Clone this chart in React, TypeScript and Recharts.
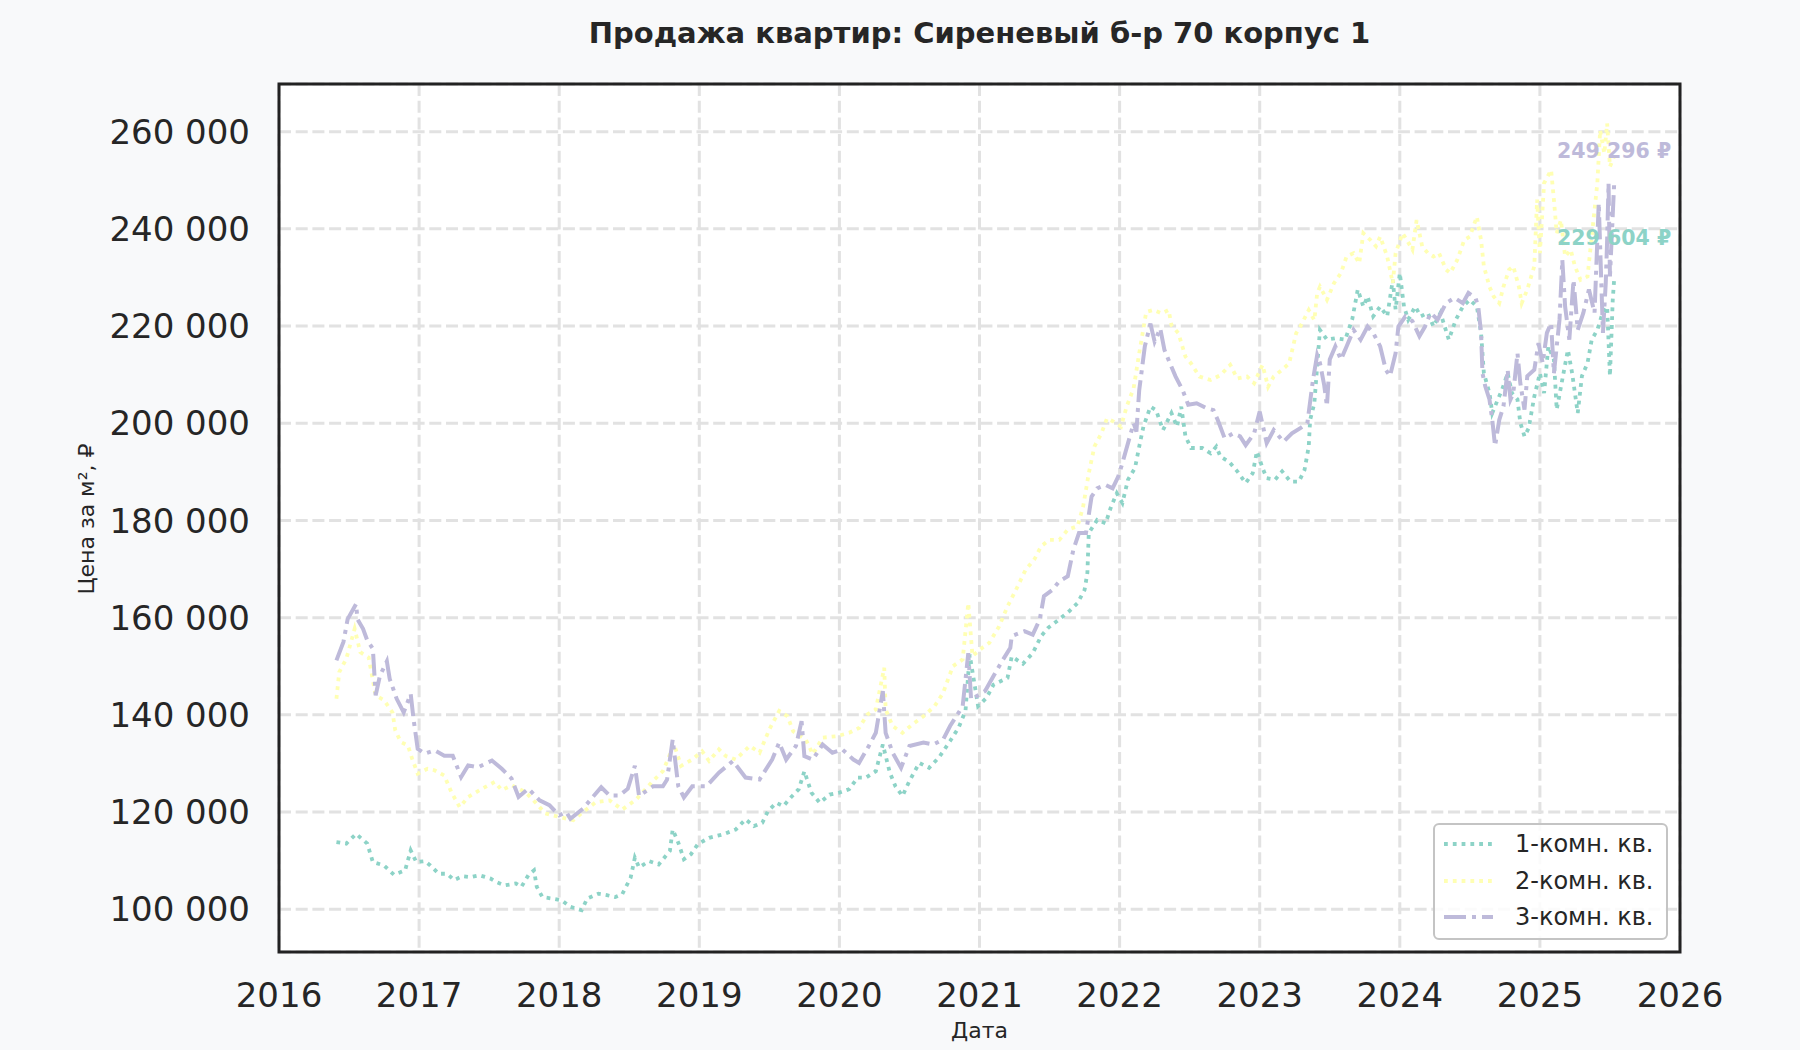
import React from "react";
import { LineChart, Line, XAxis, YAxis, CartesianGrid, ReferenceArea, ReferenceDot } from "recharts";

// ---------- data ----------
const TITLE = "Продажа квартир: Сиреневый б-р 70 корпус 1";
const X_LABEL = "Дата";
const Y_LABEL = "Цена за м², ₽";
const YEAR_TICKS = [2016, 2017, 2018, 2019, 2020, 2021, 2022, 2023, 2024, 2025, 2026];
const PRICE_TICKS = [100000, 120000, 140000, 160000, 180000, 200000, 220000, 240000, 260000];
const SERIES_NAMES = ["1-комн. кв.", "2-комн. кв.", "3-комн. кв."];

const DATES_1 = [
  2016.41, 2016.48, 2016.55, 2016.63, 2016.67, 2016.75, 2016.82, 2016.90, 2016.94, 2016.98,
  2017.04, 2017.08, 2017.14, 2017.20, 2017.25, 2017.31, 2017.37, 2017.43, 2017.51, 2017.55,
  2017.61, 2017.69, 2017.73, 2017.78, 2017.82, 2017.84, 2017.88, 2017.95, 2018.02, 2018.08,
  2018.16, 2018.20, 2018.28, 2018.34, 2018.40, 2018.45, 2018.51, 2018.54, 2018.57, 2018.64,
  2018.71, 2018.79, 2018.81, 2018.85, 2018.89, 2018.94, 2018.99, 2019.07, 2019.17, 2019.26,
  2019.33, 2019.39, 2019.45, 2019.49, 2019.55, 2019.60, 2019.65, 2019.71, 2019.75, 2019.80,
  2019.86, 2019.93, 2020.00, 2020.07, 2020.13, 2020.19, 2020.26, 2020.31, 2020.36, 2020.40,
  2020.45, 2020.50, 2020.57, 2020.64, 2020.71, 2020.79, 2020.85, 2020.90, 2020.93, 2020.99,
  2021.05, 2021.10, 2021.20, 2021.23, 2021.31, 2021.38, 2021.44, 2021.49, 2021.58, 2021.64,
  2021.70, 2021.75, 2021.77, 2021.78, 2021.84, 2021.90, 2021.94, 2021.98, 2022.02, 2022.06,
  2022.11, 2022.14, 2022.17, 2022.22, 2022.26, 2022.31, 2022.37, 2022.41, 2022.44, 2022.47,
  2022.51, 2022.59, 2022.65, 2022.69, 2022.72, 2022.78, 2022.84, 2022.90, 2022.95, 2022.98,
  2023.02, 2023.05, 2023.11, 2023.16, 2023.22, 2023.28, 2023.32, 2023.35, 2023.36, 2023.39,
  2023.43, 2023.48, 2023.54, 2023.61, 2023.66, 2023.70, 2023.74, 2023.77, 2023.81, 2023.86,
  2023.91, 2023.95, 2023.97, 2024.00, 2024.03, 2024.06, 2024.11, 2024.15, 2024.20, 2024.24,
  2024.29, 2024.35, 2024.40, 2024.45, 2024.50, 2024.55, 2024.58, 2024.60, 2024.64, 2024.66,
  2024.70, 2024.73, 2024.77, 2024.80, 2024.84, 2024.86, 2024.89, 2024.92, 2024.96, 2025.00,
  2025.03, 2025.06, 2025.10, 2025.12, 2025.16, 2025.20, 2025.23, 2025.27, 2025.30, 2025.34,
  2025.37, 2025.41, 2025.44, 2025.48, 2025.50, 2025.52, 2025.53,
];
const PRICES_1 = [
  113800, 113500, 115500, 113500, 109700, 109000, 107100, 108000, 112100, 109700,
  109900, 109000, 107300, 107300, 106000, 106800, 106600, 107000, 106300, 105600,
  104900, 105300, 104600, 107000, 108000, 104600, 102500, 102200, 101800, 100500,
  99800, 102200, 103200, 102900, 102500, 103100, 106500, 110600, 108600, 109900,
  109200, 112000, 116400, 113700, 110300, 111300, 113400, 114700, 115400, 116400,
  118500, 117100, 117800, 120200, 121900, 121200, 122900, 124700, 128400, 124000,
  121900, 123600, 124000, 124700, 127100, 127100, 128400, 133900, 128100, 125300,
  123300, 126400, 130100, 129100, 131200, 134600, 137300, 140800, 152400, 141800,
  143500, 146200, 147600, 152000, 150500, 152700, 156200, 157900, 159900, 161300,
  163000, 165700, 169200, 177400, 180100, 179400, 182900, 185600, 183600, 188400,
  190800, 195200, 199300, 203400, 202700, 198600, 202100, 199300, 203400, 197300,
  194900, 194900, 193800, 195200, 193100, 192100, 190100, 187700, 189700, 194200,
  190800, 188700, 188400, 190100, 188000, 188000, 190400, 195200, 200700, 204100,
  219200, 217200, 217500, 217200, 221300, 227500, 224000, 226100, 222000, 224000,
  222000, 229500, 223400, 230900, 224000, 221300, 224000, 222000, 222700, 219900,
  222700, 217200, 221300, 224000, 225400, 224000, 218600, 210300, 206200, 202100,
  204900, 206900, 210300, 206200, 204900, 200100, 197300, 199000, 205500, 210300,
  206200, 215800, 213100, 202800, 209000, 215100, 210300, 202100, 209700, 212400,
  217200, 219200, 222000, 224000, 209700, 225400, 229604,
];

const DATES_2 = [
  2016.41, 2016.43, 2016.48, 2016.54, 2016.58, 2016.64, 2016.69, 2016.75, 2016.81, 2016.83,
  2016.87, 2016.92, 2016.95, 2016.99, 2017.06, 2017.11, 2017.18, 2017.23, 2017.29, 2017.35,
  2017.45, 2017.54, 2017.59, 2017.66, 2017.76, 2017.83, 2017.90, 2018.00, 2018.10, 2018.17,
  2018.26, 2018.36, 2018.45, 2018.55, 2018.67, 2018.74, 2018.82, 2018.87, 2018.95, 2019.02,
  2019.07, 2019.14, 2019.19, 2019.26, 2019.36, 2019.43, 2019.50, 2019.57, 2019.63, 2019.67,
  2019.76, 2019.81, 2019.88, 2019.98, 2020.07, 2020.14, 2020.20, 2020.26, 2020.32, 2020.33,
  2020.38, 2020.45, 2020.52, 2020.60, 2020.68, 2020.74, 2020.81, 2020.88, 2020.92, 2020.95,
  2021.02, 2021.07, 2021.14, 2021.20, 2021.26, 2021.33, 2021.39, 2021.44, 2021.50, 2021.57,
  2021.63, 2021.70, 2021.74, 2021.78, 2021.82, 2021.87, 2021.91, 2021.96, 2022.01, 2022.05,
  2022.10, 2022.14, 2022.19, 2022.24, 2022.30, 2022.35, 2022.37, 2022.42, 2022.47, 2022.51,
  2022.57, 2022.65, 2022.72, 2022.79, 2022.84, 2022.91, 2022.96, 2023.02, 2023.06, 2023.10,
  2023.16, 2023.21, 2023.26, 2023.29, 2023.35, 2023.39, 2023.41, 2023.43, 2023.48, 2023.53,
  2023.58, 2023.62, 2023.67, 2023.71, 2023.74, 2023.79, 2023.83, 2023.86, 2023.91, 2023.95,
  2023.97, 2024.02, 2024.05, 2024.09, 2024.12, 2024.16, 2024.20, 2024.24, 2024.28, 2024.33,
  2024.36, 2024.41, 2024.46, 2024.50, 2024.55, 2024.58, 2024.60, 2024.64, 2024.67, 2024.71,
  2024.74, 2024.78, 2024.81, 2024.85, 2024.87, 2024.91, 2024.96, 2024.98, 2025.00, 2025.03,
  2025.08, 2025.10, 2025.12, 2025.15, 2025.18, 2025.22, 2025.25, 2025.29, 2025.34, 2025.37,
  2025.41, 2025.43, 2025.46, 2025.48, 2025.50, 2025.53,
];
const PRICES_2 = [
  143300, 148800, 151500, 157700, 152900, 151800, 144000, 143000, 140500, 136800,
  134400, 133700, 131000, 127900, 128900, 128600, 127500, 124100, 121000, 123100,
  124800, 126200, 124500, 125500, 124100, 122000, 119700, 119000, 118300, 120000,
  122000, 122400, 120500, 122600, 126400, 128400, 133900, 129500, 130800, 132500,
  130500, 132900, 131500, 130800, 133600, 132200, 137000, 140800, 139700, 136600,
  134900, 131900, 135300, 135600, 136300, 137300, 140100, 141100, 149700, 141100,
  137700, 136300, 138000, 139700, 141800, 144500, 150000, 151400, 163000, 152100,
  153800, 154800, 158200, 162300, 165700, 169900, 171900, 174700, 176000, 176000,
  178100, 178800, 182900, 189700, 195200, 197900, 201000, 200300, 199300, 203400,
  207200, 214400, 222900, 223300, 222600, 223300, 220200, 218500, 213700, 212300,
  209600, 208900, 209900, 212000, 209200, 209600, 208200, 212000, 207500, 209600,
  211000, 212300, 218500, 219900, 223300, 221200, 226700, 228100, 225400, 228800,
  230900, 234300, 235000, 232900, 239100, 237700, 236400, 238400, 234300, 228800,
  235000, 239100, 237700, 235700, 241800, 236400, 235000, 234300, 235000, 231600,
  230900, 233600, 237700, 238400, 242500, 237700, 232300, 228100, 226100, 224700,
  228100, 231600, 232300, 228100, 224700, 227500, 232300, 246000, 235000, 249400,
  252100, 246000, 239100, 241800, 234300, 235700, 232300, 229500, 230200, 238400,
  249400, 260300, 255500, 261700, 252800, 254900,
];

const DATES_3 = [
  2016.41, 2016.46, 2016.49, 2016.55, 2016.56, 2016.60, 2016.63, 2016.67, 2016.69, 2016.72,
  2016.77, 2016.79, 2016.84, 2016.89, 2016.94, 2016.96, 2016.99, 2017.04, 2017.11, 2017.18,
  2017.24, 2017.30, 2017.35, 2017.42, 2017.52, 2017.59, 2017.66, 2017.71, 2017.78, 2017.86,
  2017.93, 2018.00, 2018.05, 2018.08, 2018.17, 2018.24, 2018.30, 2018.36, 2018.43, 2018.49,
  2018.54, 2018.57, 2018.67, 2018.74, 2018.77, 2018.81, 2018.85, 2018.89, 2018.95, 2019.05,
  2019.14, 2019.24, 2019.33, 2019.43, 2019.52, 2019.57, 2019.62, 2019.69, 2019.73, 2019.75,
  2019.81, 2019.88, 2019.95, 2020.02, 2020.10, 2020.14, 2020.21, 2020.26, 2020.31, 2020.33,
  2020.38, 2020.44, 2020.50, 2020.60, 2020.67, 2020.74, 2020.79, 2020.85, 2020.88, 2020.92,
  2020.94, 2021.00, 2021.04, 2021.10, 2021.16, 2021.22, 2021.23, 2021.32, 2021.38, 2021.43,
  2021.46, 2021.52, 2021.57, 2021.63, 2021.67, 2021.71, 2021.76, 2021.80, 2021.84, 2021.90,
  2021.95, 2021.99, 2022.02, 2022.06, 2022.10, 2022.12, 2022.14, 2022.18, 2022.22, 2022.25,
  2022.29, 2022.32, 2022.36, 2022.40, 2022.45, 2022.49, 2022.55, 2022.62, 2022.67, 2022.70,
  2022.75, 2022.81, 2022.86, 2022.90, 2022.96, 2023.00, 2023.05, 2023.10, 2023.17, 2023.23,
  2023.29, 2023.34, 2023.38, 2023.41, 2023.43, 2023.46, 2023.48, 2023.50, 2023.54, 2023.58,
  2023.62, 2023.67, 2023.72, 2023.77, 2023.81, 2023.86, 2023.90, 2023.93, 2023.97, 2023.99,
  2024.04, 2024.09, 2024.14, 2024.18, 2024.22, 2024.27, 2024.33, 2024.39, 2024.45, 2024.49,
  2024.54, 2024.56, 2024.58, 2024.59, 2024.61, 2024.64, 2024.66, 2024.68, 2024.71, 2024.74,
  2024.77, 2024.79, 2024.81, 2024.84, 2024.86, 2024.89, 2024.91, 2024.96, 2024.99, 2025.02,
  2025.05, 2025.08, 2025.10, 2025.14, 2025.16, 2025.18, 2025.21, 2025.24, 2025.27, 2025.31,
  2025.35, 2025.39, 2025.42, 2025.45, 2025.47, 2025.48, 2025.49, 2025.50, 2025.53,
];
const PRICES_3 = [
  151200, 155000, 159700, 162800, 159700, 157700, 155300, 153600, 144000, 148000,
  151000, 147400, 143300, 140500, 144300, 139200, 133000, 132000, 132700, 131600,
  131600, 127200, 129600, 129200, 130600, 128900, 126900, 123100, 124800, 122400,
  121400, 119300, 120000, 118600, 120700, 123100, 125100, 123400, 123400, 124800,
  129500, 123300, 125300, 125300, 126700, 134900, 125300, 123000, 125300, 125300,
  128100, 130500, 127100, 126700, 130800, 134300, 130800, 133600, 138700, 131500,
  130800, 133900, 132200, 132900, 130800, 130100, 133600, 136300, 144900, 136300,
  132200, 129100, 133600, 134300, 133900, 134900, 137700, 140400, 141800, 152700,
  143200, 144200, 144900, 148000, 151000, 153800, 156200, 157200, 156500, 159600,
  164400, 165700, 167500, 168500, 174000, 177400, 177400, 184900, 186600, 187300,
  186600, 189000, 191800, 195900, 200000, 198300, 206800, 215800, 220500, 216800,
  219500, 215100, 212300, 209600, 206800, 203800, 204100, 203100, 202700, 200700,
  196900, 197900, 197300, 195500, 197900, 202400, 195900, 198600, 196200, 197900,
  199000, 200000, 208900, 214000, 212400, 207900, 203500, 213100, 215800, 213100,
  215800, 219200, 217200, 219900, 218600, 215800, 211000, 209700, 214400, 219900,
  222000, 221000, 217900, 219900, 222700, 221300, 224700, 225800, 224700, 226800,
  225800, 224000, 218600, 210300, 207600, 204900, 200700, 195300, 200700, 203500,
  211000, 204900, 206200, 214400, 208300, 202800, 209700, 211000, 216500, 212400,
  218600, 220600, 210300, 221300, 233600, 224000, 217200, 229500, 219200, 222700,
  227500, 222700, 245300, 218600, 228800, 237700, 249400, 230200, 249296,
];

// ---------- style ----------
const FONT = "'DejaVu Sans', 'Noto Sans', sans-serif";
const TEXT = "#262626";
const W = 1800;
const H = 1050;
const PLOT = { left: 279, right: 1680, top: 84, bottom: 952 };
const Y_DOMAIN = [91200, 269800];
const COLORS = ["#8dd3c7", "#ffffb3", "#bebada"];
const DASHES = ["3.8 5", "3.8 5", "22 6 4 6"];
const WIDTHS = [3.8, 3.8, 4];
const LABEL_DY = [-34, 0, -26];

const fmt = (n: number) => String(Math.round(n)).replace(/\B(?=(\d{3})+(?!\d))/g, " ");

const toRows = (xs: number[], ys: number[]) => xs.map((x, i) => ({ x, y: ys[i] }));
const SERIES = [
  toRows(DATES_1, PRICES_1),
  toRows(DATES_2, PRICES_2),
  toRows(DATES_3, PRICES_3),
];

const makeLabel = (text: string, color: string, dy: number) => (props: any) => (
  <text
    x={props.cx}
    y={props.cy + dy}
    textAnchor="middle"
    fontFamily={FONT}
    fontWeight="bold"
    fontSize={20.5}
    fill={color}
  >
    {text}
  </text>
);

export default function App() {
  const yAxisWidth = 200;
  const xAxisHeight = 60;
  const last1 = SERIES[0][SERIES[0].length - 1];
  const last3 = SERIES[2][SERIES[2].length - 1];
  return (
    <div
      style={{
        position: "absolute",
        left: 0,
        top: 0,
        width: W,
        height: H,
        background: "#f8f9fa",
        fontFamily: FONT,
        overflow: "hidden",
      }}
    >
      <LineChart
        width={W}
        height={H}
        margin={{
          top: PLOT.top,
          right: W - PLOT.right,
          left: PLOT.left - yAxisWidth,
          bottom: H - PLOT.bottom - xAxisHeight,
        }}
      >
        <CartesianGrid
          fill="#ffffff"
          fillOpacity={1}
          stroke="#e2e2e2"
          strokeWidth={3}
          strokeDasharray="12 4.7"
        />
        <XAxis
          type="number"
          dataKey="x"
          domain={[2016, 2026]}
          ticks={YEAR_TICKS}
          tickFormatter={(v: number) => String(v)}
          axisLine={false}
          tickLine={false}
          tickMargin={25}
          height={xAxisHeight}
          tick={{ fontSize: 34, fill: TEXT, fontFamily: FONT }}
          interval={0}
          allowDataOverflow
        />
        <YAxis
          type="number"
          domain={Y_DOMAIN}
          ticks={PRICE_TICKS}
          tickFormatter={fmt}
          axisLine={false}
          tickLine={false}
          tickMargin={23}
          width={yAxisWidth}
          tick={{ fontSize: 34, fill: TEXT, fontFamily: FONT }}
          interval={0}
          allowDataOverflow
        />
        {SERIES.map((rows, i) => (
          <Line
            key={SERIES_NAMES[i]}
            data={rows}
            dataKey="y"
            name={SERIES_NAMES[i]}
            type="linear"
            stroke={COLORS[i]}
            strokeWidth={WIDTHS[i]}
            strokeDasharray={DASHES[i]}
            dot={false}
            activeDot={false}
            isAnimationActive={false}
          />
        ))}
        <ReferenceDot
          x={last1.x}
          y={last1.y}
          r={0}
          ifOverflow="visible"
          shape={makeLabel(`${fmt(last1.y)} ₽`, COLORS[0], LABEL_DY[0])}
        />
        <ReferenceDot
          x={last3.x}
          y={last3.y}
          r={0}
          ifOverflow="visible"
          shape={makeLabel(`${fmt(last3.y)} ₽`, COLORS[2], LABEL_DY[2])}
        />
        <ReferenceArea
          x1={2016}
          x2={2026}
          y1={Y_DOMAIN[0]}
          y2={Y_DOMAIN[1]}
          fill="none"
          fillOpacity={0}
          stroke="#222222"
          strokeWidth={3}
          ifOverflow="visible"
        />
      </LineChart>

      <svg
        width={W}
        height={H}
        style={{ position: "absolute", left: 0, top: 0, pointerEvents: "none" }}
      >
        <text
          x={(PLOT.left + PLOT.right) / 2}
          y={42.5}
          textAnchor="middle"
          fontFamily={FONT}
          fontWeight="bold"
          fontSize={29}
          fill={TEXT}
        >
          {TITLE}
        </text>
        <text
          x={(PLOT.left + PLOT.right) / 2}
          y={1038}
          textAnchor="middle"
          fontFamily={FONT}
          fontSize={22}
          fill={TEXT}
        >
          {X_LABEL}
        </text>
        <text
          x={94}
          y={519}
          textAnchor="middle"
          fontFamily={FONT}
          fontSize={22}
          fill={TEXT}
          transform="rotate(-90 94 519)"
        >
          {Y_LABEL}
        </text>
      </svg>

      <div
        style={{
          position: "absolute",
          left: 1433,
          top: 823,
          width: 231,
          height: 113,
          border: "2px solid #c4c4c4",
          borderRadius: 6,
          background: "rgba(255,255,255,0.85)",
        }}
      >
        {SERIES_NAMES.map((name, i) => (
          <div
            key={name}
            style={{
              position: "absolute",
              left: 0,
              top: 2 + i * 36.7,
              height: 34,
              display: "flex",
              alignItems: "center",
            }}
          >
            <svg width={80} height={34} style={{ display: "block" }}>
              <line
                x1={9}
                x2={58}
                y1={17}
                y2={17}
                stroke={COLORS[i]}
                strokeWidth={WIDTHS[i]}
                strokeDasharray={DASHES[i]}
              />
            </svg>
            <span style={{ fontSize: 24, color: TEXT, fontFamily: FONT, whiteSpace: "nowrap" }}>
              {name}
            </span>
          </div>
        ))}
      </div>
    </div>
  );
}
